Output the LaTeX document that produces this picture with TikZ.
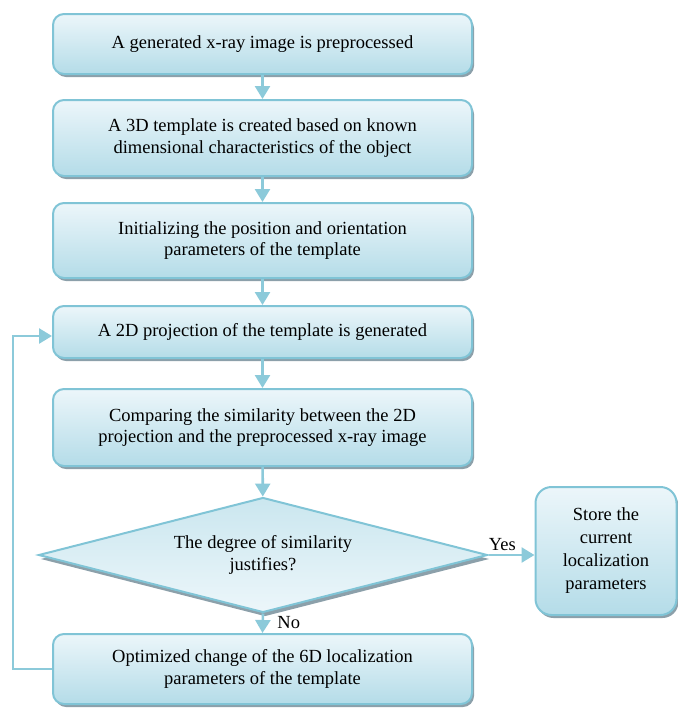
\documentclass[tikz,border=0pt]{standalone}
\usepackage{fontspec}
\setmainfont{Liberation Serif}
\usetikzlibrary{shapes.geometric,arrows.meta,shadows}
\definecolor{bord}{RGB}{128,196,214}
\definecolor{topc}{RGB}{236,246,250}
\definecolor{botc}{RGB}{180,220,232}
\definecolor{shad}{RGB}{140,160,170}
\definecolor{arr}{RGB}{140,202,218}
\tikzset{
  procbox/.style={draw=bord, line width=2pt, rounded corners=11pt,
    top color=topc, bottom color=botc, minimum width=419pt, align=center,
    font=\fontsize{18.5}{21.5}\selectfont,
    drop shadow={shadow xshift=2pt, shadow yshift=-3pt, fill=shad, opacity=1}},
  decbox/.style={draw=bord, line width=2pt, diamond, aspect=3.9,
    top color=botc!70!white, bottom color=topc, minimum width=449pt, minimum height=115pt,
    inner sep=0pt, align=center, font=\fontsize{18.5}{21.5}\selectfont,
    drop shadow={shadow xshift=2pt, shadow yshift=-4pt, fill=shad, opacity=1}},
  conn/.style={draw=arr, line width=2.6pt, -{Triangle[width=15pt,length=13pt]}},
  lbl/.style={font=\fontsize{18.5}{21.5}\selectfont}
}
\begin{document}
\begin{tikzpicture}[x=1pt,y=-1pt]
\useasboundingbox (0,0) rectangle (678,713);
\node[procbox, minimum height=60pt] (b1) at (262.5,44) {A generated x-ray image is preprocessed};
\node[procbox, minimum height=76pt] (b2) at (262.5,138) {A 3D template is created based on known\\dimensional characteristics of the object};
\node[procbox, minimum height=75pt] (b3) at (262.5,240.5) {Initializing the position and orientation\\parameters of the template};
\node[procbox, minimum height=52pt] (b4) at (262.5,332) {A 2D projection of the template is generated};
\node[procbox, minimum height=77pt] (b5) at (262.5,427.5) {Comparing the similarity between the 2D\\projection and the preprocessed x-ray image};
\node[decbox] (d) at (263,555) {The degree of similarity\\justifies?};
\node[procbox, minimum width=141pt, minimum height=128pt, rounded corners=16pt,
  font=\fontsize{18.5}{23}\selectfont] (s) at (606,551) {Store the\\current\\localization\\parameters};
\node[procbox, minimum height=70pt] (b6) at (262.5,669) {Optimized change of the 6D localization\\parameters of the template};
\draw[conn] (b1) -- (b2);
\draw[conn] (b2) -- (b3);
\draw[conn] (b3) -- (b4);
\draw[conn] (b4) -- (b5);
\draw[conn] (b5) -- (d);
\draw[conn] (d.east) -- (s.west |- d.east) node[lbl, pos=0.3, above] {Yes};
\draw[conn] (d.south) -- (b6.north) node[lbl, pos=0.45, right, xshift=10pt] {No};
\coordinate (c1) at (13,669);
\coordinate (c2) at (13,336);
\draw[conn] (b6.west) -- (c1) -- (c2) -- (b4.west |- c2);
\end{tikzpicture}
\end{document}
